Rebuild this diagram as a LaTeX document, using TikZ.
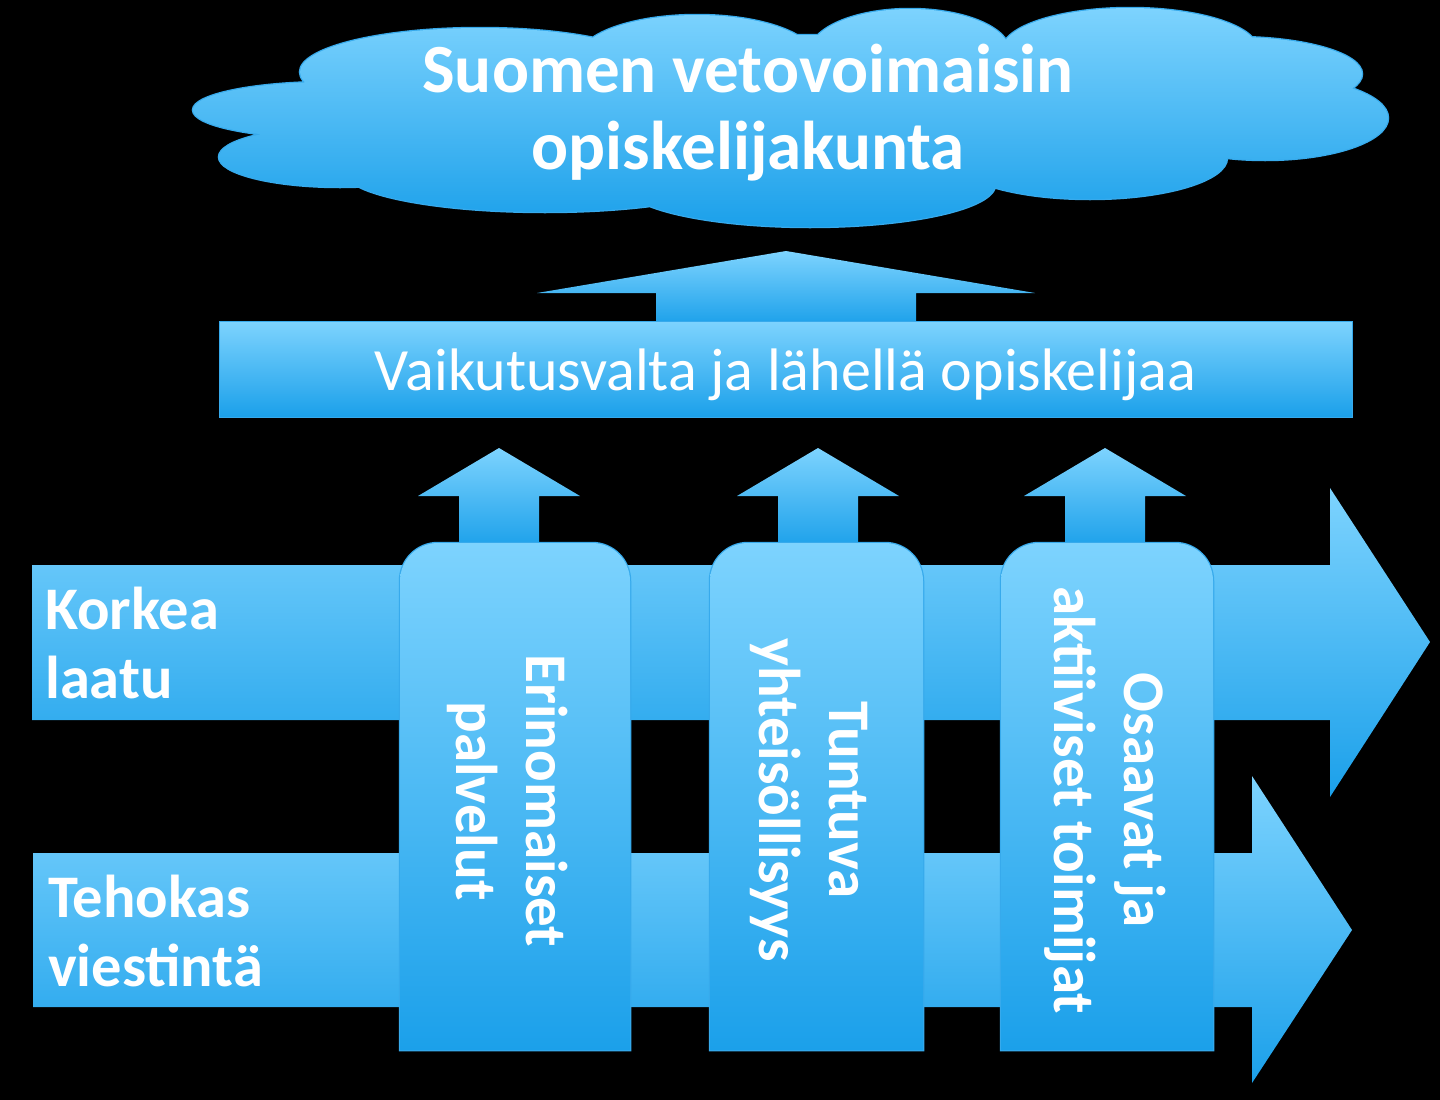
\documentclass[tikz,border=0pt]{standalone}
\usepackage{fontspec}
\setmainfont{Carlito}
\usepackage{tikz}
\usetikzlibrary{positioning}
\definecolor{skylight}{RGB}{125,211,254}
\definecolor{skydeep}{RGB}{27,160,234}
\definecolor{skyline}{RGB}{55,170,236}
\newcommand\cloudlobes{330/110/137/28, 340/157/121/30, 480/72/180/44,
  697/58/118/43, 910/52/100/43, 1130/50/128/42, 1235/74/127/37,
  1265/118/123/42, 1090/158/137/41, 810/185/185/42, 545/172/200/40,
  790/115/500/80}

\begin{document}
\begin{tikzpicture}[
  x=1pt, y=-1pt,
  every node/.style={text=white, inner sep=0pt},
  sky/.style={top color=skylight, bottom color=skydeep},
  rim/.style={draw=skyline, line width=2.5pt},
  goaltext/.style={font=\fontsize{69}{77}\selectfont\bfseries, align=center},
  bar/.style={sky, draw=skyline, line width=1pt,
    minimum width=1133pt, minimum height=96pt,
    font=\fontsize{60}{70}\selectfont, text height=44pt, text depth=2pt},
  sidetext/.style={font=\fontsize{60.5}{69}\selectfont\bfseries,
    align=left, anchor=west},
  pillartext/.style={font=\fontsize{59}{70}\selectfont\bfseries,
    align=center, rotate=-90},
]

\fill[black] (0,0) rectangle (1440,1100);

% ── TOP ── cloud with the goal
\path[rim] \foreach \cx/\cy/\rx/\ry in \cloudlobes
  {(\cx,\cy) ellipse [x radius=\rx, y radius=\ry]};
\path[sky] \foreach \cx/\cy/\rx/\ry in \cloudlobes
  {(\cx,\cy) ellipse [x radius=\rx, y radius=\ry]};
\node[goaltext] at (748,113) (goal) {Suomen vetovoimaisin\\opiskelijakunta};

% ── MIDDLE ── bar + big arrow up to the cloud
\path[sky] (656,325) -- (656,293) -- (537,293) -- (786,251)
  -- (1035,293) -- (916,293) -- (916,325) -- cycle;
\node[bar] at (785.5,369) (influence) {Vaikutusvalta ja lähellä opiskelijaa};

% ── BOTTOM ── two long arrows to the right
\path[sky] (32,565) -- (1330,565) -- (1330,488) -- (1430,642)
  -- (1330,797) -- (1330,720) -- (32,720) -- cycle;
\path[sky] (33,853) -- (1252,853) -- (1252,776) -- (1352,930)
  -- (1252,1083) -- (1252,1007) -- (33,1007) -- cycle;
\node[sidetext] at (45,643) (quality) {Korkea\\laatu};
\node[sidetext] at (48,931) (comms)   {Tehokas\\viestintä};

% small arrows on top of the pillars
\foreach \cx in {499,818,1105}
  \path[sky] ({\cx-40},548) -- ({\cx-40},496) -- ({\cx-81},496) -- (\cx,448)
    -- ({\cx+81},496) -- ({\cx+40},496) -- ({\cx+40},548) -- cycle;

% pillars
\foreach \xl/\xr in {400/630, 710/923, 1001/1213} {
  \path[rim] [rounded corners=38pt] (\xl,543) rectangle (\xr,1050)
    [sharp corners] (\xl,600) rectangle (\xr,1050);
  \path[sky] [rounded corners=38pt] (\xl,543) rectangle (\xr,1050)
    [sharp corners] (\xl,600) rectangle (\xr,1050);
}
\node[pillartext] at (508,801) (services)  {Erinomaiset\\palvelut};
\node[pillartext] at (809,800) (community) {Tuntuva\\yhteisöllisyys};
\node[pillartext] at (1105,800) (actors)   {Osaavat ja\\aktiiviset toimijat};

\end{tikzpicture}
\end{document}
